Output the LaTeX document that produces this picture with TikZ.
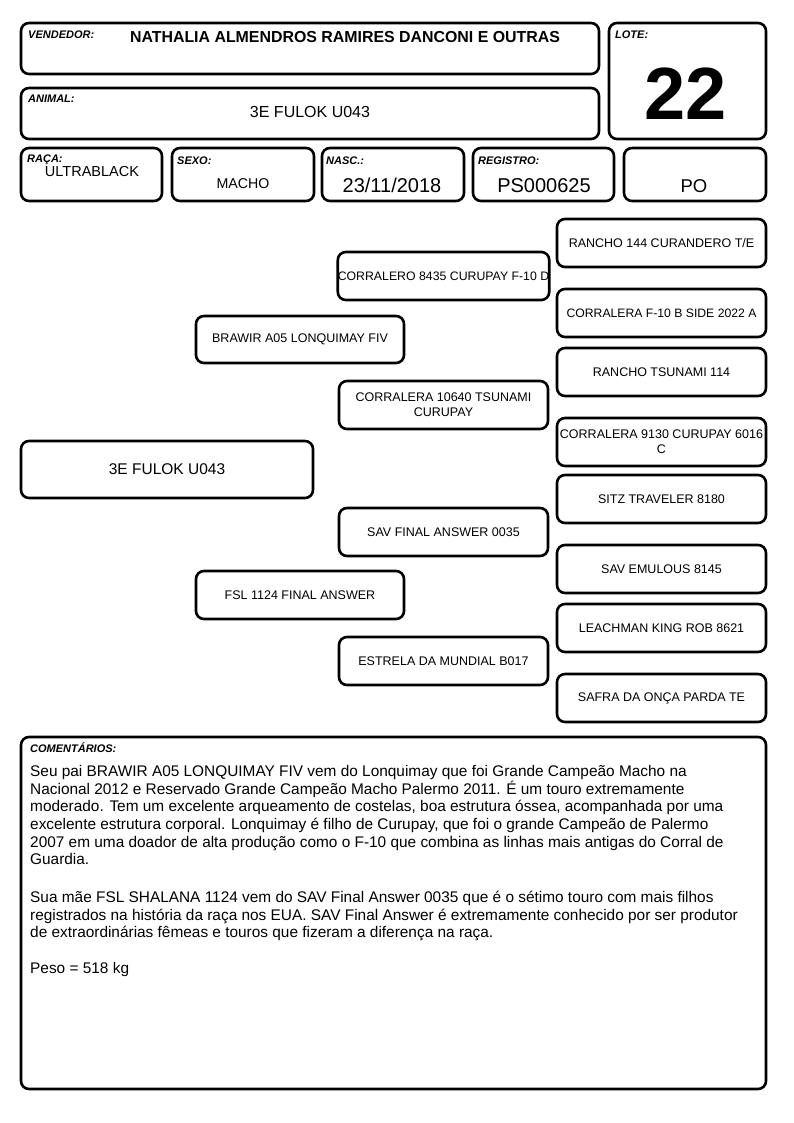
\documentclass[tikz,border=0pt]{standalone}
\usepackage{fontspec}
\setmainfont{Liberation Sans}
\usepackage{tikz}

\newcommand{\pedfont}{\fontsize{12.5}{15}\selectfont}
\newcommand{\tagfont}{\fontsize{11}{12}\selectfont\bfseries\itshape}

\tikzset{
  card/.style={draw, line width=2.6pt, rounded corners=8pt, inner sep=0pt},
  tag/.style={font=\tagfont, inner sep=0pt, anchor=base west},
  val/.style={inner sep=0pt, anchor=base},
  pbox/.style={card, minimum width=209pt, minimum height=48pt, align=center, font=\pedfont},
}

\begin{document}
\begin{tikzpicture}[x=1pt, y=-1pt]
\useasboundingbox[fill=white] (0,0) rectangle (794,1123);

% header
\node[card, minimum width=578pt, minimum height=51pt] (vendedor) at (310,48.5) {};
\node[card, minimum width=157pt, minimum height=116pt] (lote) at (687.5,81) {};
\node[card, minimum width=578pt, minimum height=51pt] (animal) at (310,113.5) {};
\node[card, minimum width=141pt, minimum height=53pt] (raca) at (91.5,174.5) {};
\node[card, minimum width=142pt, minimum height=53pt] (sexo) at (243,174.5) {};
\node[card, minimum width=142pt, minimum height=53pt] (nasc) at (393,174.5) {};
\node[card, minimum width=141pt, minimum height=53pt] (registro) at (543.5,174.5) {};
\node[card, minimum width=142pt, minimum height=53pt] (categoria) at (695,174.5) {};

\node[tag] (vendedorlbl) at (28,39) {VENDEDOR:};
\node[tag] (lotelbl) at (615,39) {LOTE:};
\node[tag] (animallbl) at (28,103) {ANIMAL:};
\node[tag] (racalbl) at (27,163) {RAÇA:};
\node[tag] (sexolbl) at (177,165) {SEXO:};
\node[tag] (nasclbl) at (326,165) {NASC.:};
\node[tag] (registrolbl) at (478,165) {REGISTRO:};

\node[val, font=\fontsize{15.9}{18}\selectfont\bfseries] (vendedorval) at (345,43) {NATHALIA ALMENDROS RAMIRES DANCONI E OUTRAS};
\node[val, font=\fontsize{74}{80}\selectfont\bfseries] (loteval) at (686,120) {22};
\node[val, font=\fontsize{16}{18}\selectfont] (animalval) at (310,118) {3E FULOK U043};
\node[val, font=\fontsize{14.5}{18}\selectfont] (racaval) at (92,177) {ULTRABLACK};
\node[val, font=\fontsize{14.2}{18}\selectfont] (sexoval) at (243,189) {MACHO};
\node[val, font=\fontsize{20}{22}\selectfont] (nascval) at (392,193) {23/11/2018};
\node[val, font=\fontsize{20}{22}\selectfont] (registroval) at (544,193) {PS000625};
\node[val, font=\fontsize{18.5}{22}\selectfont] (categoriaval) at (694,193) {PO};

% pedigree
\node[card, minimum width=292pt, minimum height=57pt, font=\fontsize{15.5}{18}\selectfont] (fulok) at (167,469.5) {3E FULOK U043};

\node[pbox, minimum width=208pt, minimum height=47pt] (pai) at (300,339.5) {BRAWIR A05 LONQUIMAY FIV};
\node[pbox, minimum width=208pt] (mae) at (300,595) {FSL 1124 FINAL ANSWER};

\node[pbox, font=\fontsize{12.3}{15}\selectfont] (avopp) at (443.5,276) {CORRALERO 8435 CURUPAY F-10 D};
\node[pbox] (avopm) at (443.5,405) {CORRALERA 10640 TSUNAMI\\CURUPAY};
\node[pbox] (avomp) at (443.5,532) {SAV FINAL ANSWER 0035};
\node[pbox] (avomm) at (443.5,661) {ESTRELA DA MUNDIAL B017};

\node[pbox] (bisppp) at (661.5,243) {RANCHO 144 CURANDERO T/E};
\node[pbox, font=\fontsize{12.2}{15}\selectfont] (bisppm) at (661.5,313) {CORRALERA F-10 B SIDE 2022 A};
\node[pbox] (bispmp) at (661.5,372) {RANCHO TSUNAMI 114};
\node[pbox] (bispmm) at (661.5,442) {CORRALERA 9130 CURUPAY 6016\\C};
\node[pbox] (bismpp) at (661.5,499) {SITZ TRAVELER 8180};
\node[pbox] (bismpm) at (661.5,569) {SAV EMULOUS 8145};
\node[pbox] (bismmp) at (661.5,628) {LEACHMAN KING ROB 8621};
\node[pbox] (bismmm) at (661.5,698) {SAFRA DA ONÇA PARDA TE};

% comentarios
\node[card, minimum width=745pt, minimum height=352pt] (comentarios) at (393.5,913) {};
\node[tag] (comentarioslbl) at (30,752) {COMENTÁRIOS:};
\node[inner sep=0pt, anchor=north west, align=left, font=\fontsize{15.4}{17.7}\selectfont] (comentariostxt) at (30,765) {%
Seu pai BRAWIR A05 LONQUIMAY FIV vem do Lonquimay que foi Grande Campeão Macho na\\
Nacional 2012 e Reservado Grande Campeão Macho Palermo 2011. É um touro extremamente\\
moderado. Tem um excelente arqueamento de costelas, boa estrutura óssea, acompanhada por uma\\
excelente estrutura corporal. Lonquimay é filho de Curupay, que foi o grande Campeão de Palermo\\
2007 em uma doador de alta produção como o F-10 que combina as linhas mais antigas do Corral de\\
Guardia.\\[20pt]
Sua mãe FSL SHALANA 1124 vem do SAV Final Answer 0035 que é o sétimo touro com mais filhos\\
registrados na história da raça nos EUA. SAV Final Answer é extremamente conhecido por ser produtor\\
de extraordinárias fêmeas e touros que fizeram a diferença na raça.\\[18pt]
Peso = 518 kg};
\end{tikzpicture}
\end{document}
